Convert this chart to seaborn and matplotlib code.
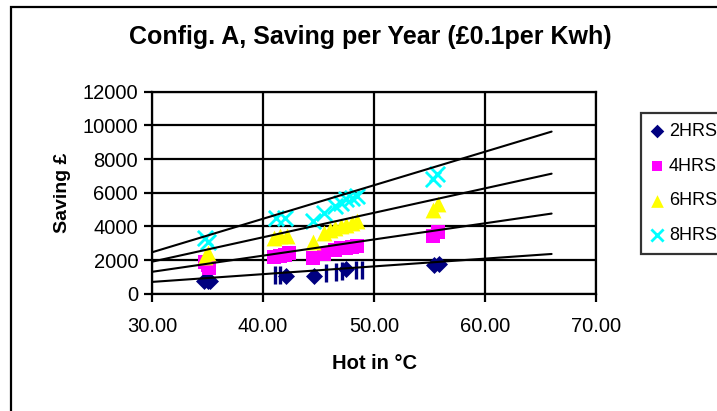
import numpy as np
import pandas as pd
import matplotlib
matplotlib.use("Agg")
import matplotlib.pyplot as plt
from matplotlib.patches import Rectangle
import seaborn as sns

# ---- data ----
hot_2 = [34.7, 35.0, 35.2, 42.1, 44.6, 47.5, 55.4, 55.9]
sav_2 = [760, 760, 760, 1060, 1080, 1450, 1720, 1760]
hot_2bar = [41.1, 41.5, 45.7, 46.6, 47.1, 48.4, 48.9]
sav_2bar = [1100, 1100, 1230, 1300, 1350, 1400, 1420]

hot_4 = [34.8, 35.0, 35.1, 41.0, 41.5, 42.0, 42.3, 44.5, 45.5, 46.5, 47.0, 47.5, 48.0, 48.5, 55.3, 55.8]
sav_4 = [1900, 1700, 1500, 2200, 2250, 2300, 2400, 2150, 2350, 2600, 2700, 2700, 2750, 2850, 3400, 3650]

hot_6 = [34.8, 35.0, 41.0, 41.5, 42.2, 44.5, 45.5, 46.0, 46.5, 47.0, 47.5, 48.0, 48.5, 55.3, 55.8]
sav_6 = [2200, 2400, 3300, 3400, 3400, 3100, 3600, 3800, 3900, 4000, 4100, 4200, 4300, 5000, 5300]

hot_8 = [34.8, 35.0, 41.2, 42.0, 44.5, 45.5, 46.5, 47.0, 47.5, 48.0, 48.5, 55.3, 55.7]
sav_8 = [3300, 3100, 4500, 4500, 4300, 4800, 5200, 5400, 5600, 5700, 5800, 6800, 7100]

trend_x = [30, 66]
trend_2 = [700, 2360]
trend_4 = [1300, 4760]
trend_6 = [1900, 7130]
trend_8 = [2460, 9630]

series_names = ["2HRS", "4HRS", "6HRS", "8HRS"]
x_ticks = [30, 40, 50, 60, 70]
y_ticks = [0, 2000, 4000, 6000, 8000, 10000, 12000]

# ---- style ----
sns.set_theme(style="white")
plt.rcParams["font.family"] = ["Liberation Sans", "DejaVu Sans"]
plt.rcParams["text.color"] = "black"
plt.rcParams["axes.labelcolor"] = "black"
plt.rcParams["xtick.color"] = "black"
plt.rcParams["ytick.color"] = "black"

fig = plt.figure(figsize=(7.17, 4.11), dpi=100)
ax = fig.add_axes([152 / 717, 1 - 293.7 / 411, (596 - 152) / 717, (293.7 - 91.7) / 411])

colors = {"2HRS": "#000080", "4HRS": "#FF00FF", "6HRS": "#FFFF00", "8HRS": "#00FFFF"}
markers = {"2HRS": "D", "4HRS": "s", "6HRS": "^"}
sizes = {"2HRS": 75, "4HRS": 95, "6HRS": 130}

df = pd.concat([
    pd.DataFrame({"hot": hot_2, "saving": sav_2, "series": "2HRS"}),
    pd.DataFrame({"hot": hot_4, "saving": sav_4, "series": "4HRS"}),
    pd.DataFrame({"hot": hot_6, "saving": sav_6, "series": "6HRS"}),
    pd.DataFrame({"hot": hot_8, "saving": sav_8, "series": "8HRS"}),
], ignore_index=True)

for name in ["2HRS", "4HRS", "6HRS"]:
    sub = df[df.series == name]
    sns.scatterplot(data=sub, x="hot", y="saving", ax=ax, marker=markers[name],
                    color=colors[name], s=sizes[name], linewidth=0, zorder=3, label=name)
sub = df[df.series == "8HRS"]
sns.scatterplot(data=sub, x="hot", y="saving", ax=ax, marker="x",
                color=colors["8HRS"], s=120, linewidth=2.0, zorder=3, label="8HRS")

bar_df = pd.DataFrame({"hot": hot_2bar, "saving": sav_2bar})
sns.scatterplot(data=bar_df, x="hot", y="saving", ax=ax, marker="|",
                color=colors["2HRS"], s=150, linewidth=2.4, zorder=3, legend=False)

trend_df = pd.concat([
    pd.DataFrame({"hot": trend_x, "saving": t, "series": n})
    for n, t in zip(series_names, [trend_2, trend_4, trend_6, trend_8])
], ignore_index=True)
sns.lineplot(data=trend_df, x="hot", y="saving", units="series", estimator=None,
             color="black", linewidth=1.5, ax=ax, zorder=4, legend=False)

ax.set_xlim(30, 70)
ax.set_ylim(0, 12000)
ax.set_xticks(x_ticks)
ax.set_xticklabels([f"{v:.2f}" for v in x_ticks])
ax.set_yticks(y_ticks)
ax.set_yticklabels([str(v) for v in y_ticks])
ax.grid(True, color="black", linewidth=1.6, zorder=0)
ax.set_axisbelow(True)
for sp in ax.spines.values():
    sp.set_color("black")
    sp.set_linewidth(1.6)
ax.tick_params(axis="both", direction="out", length=6, width=1.6, color="black",
               labelsize=14.5, pad=4, bottom=True, left=True)
ax.tick_params(axis="x", pad=11)

ax.set_xlabel("Hot in °C", fontsize=14.5, fontweight="bold", labelpad=13)
ax.set_ylabel("Saving £", fontsize=14, fontweight="bold", labelpad=8)

fig.text(0.517, 1 - 37 / 411, "Config. A, Saving per Year (£0.1per Kwh)",
         ha="center", va="center", fontsize=18, fontweight="bold")

if ax.legend_:
    ax.legend_.remove()
handles, labels = ax.get_legend_handles_labels()
leg = fig.legend(handles, labels, loc="upper left",
                 bbox_to_anchor=(632 / 717, 1 - 104 / 411), frameon=True,
                 fontsize=13, handletextpad=0.3, handlelength=0.7,
                 labelspacing=0.98, borderpad=0.55, borderaxespad=0.5,
                 markerscale=0.8)
leg.get_frame().set_edgecolor("black")
leg.get_frame().set_linewidth(1.6)
leg.get_frame().set_boxstyle("square", pad=0)

fig.patches.append(Rectangle((11 / 717, -0.1), 1.2, 1.1 - 7 / 411, transform=fig.transFigure,
                             fill=False, edgecolor="black", linewidth=1.6, clip_on=False))

fig.savefig("out.png", dpi=100)
